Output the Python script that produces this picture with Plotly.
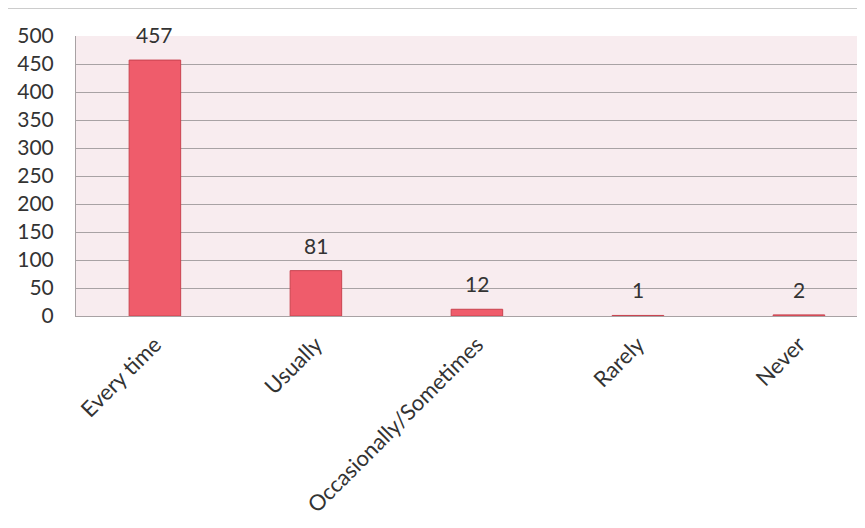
import plotly.graph_objects as go

categories = ["Every time", "Usually", "Occasionally/Sometimes", "Rarely", "Never"]
values = [457, 81, 12, 1, 2]
y_ticks = [0, 50, 100, 150, 200, 250, 300, 350, 400, 450, 500]

FONT = "Lato, 'Open Sans', sans-serif"

fig = go.Figure()
fig.add_trace(go.Bar(
    x=list(range(len(categories))),
    y=values,
    width=0.32,
    marker=dict(color="#ef5c6b", line=dict(color="#c9434f", width=1)),
    hoverinfo="skip",
))

for i, v in enumerate(values):
    fig.add_annotation(x=i, y=v, text=str(v), showarrow=False, yanchor="bottom",
                       yshift=11, font=dict(family=FONT, size=21, color="#333333"))

fig.add_shape(type="line", xref="paper", yref="paper", x0=-0.2, x1=1.2, y0=1.1, y1=1.1,
              line=dict(color="#9a9a9a", width=1))

fig.update_layout(
    width=865, height=528,
    margin=dict(l=68, r=0, t=28, b=220),
    paper_bgcolor="white",
    plot_bgcolor="#f8ecef",
    showlegend=False,
    font=dict(family=FONT, color="#333333"),
    xaxis=dict(
        range=[-0.49, 4.46],
        tickmode="array",
        tickvals=list(range(len(categories))),
        ticktext=categories,
        tickangle=-45,
        tickfont=dict(family=FONT, size=22, color="#333333"),
        showgrid=False,
        showline=True, linecolor="#a8a2a4", linewidth=1,
        ticks="outside", ticklen=6, tickcolor="rgba(0,0,0,0)",
        zeroline=False,
    ),
    yaxis=dict(
        range=[0, 500],
        tickmode="array",
        tickvals=y_ticks,
        tickfont=dict(family=FONT, size=21, color="#333333"),
        showgrid=True, gridcolor="#a8a2a4", gridwidth=1,
        showline=True, linecolor="#a8a2a4", linewidth=1,
        ticks="outside", ticklen=17, tickcolor="rgba(0,0,0,0)",
        zeroline=False,
    ),
)

fig.write_html("out.html")
